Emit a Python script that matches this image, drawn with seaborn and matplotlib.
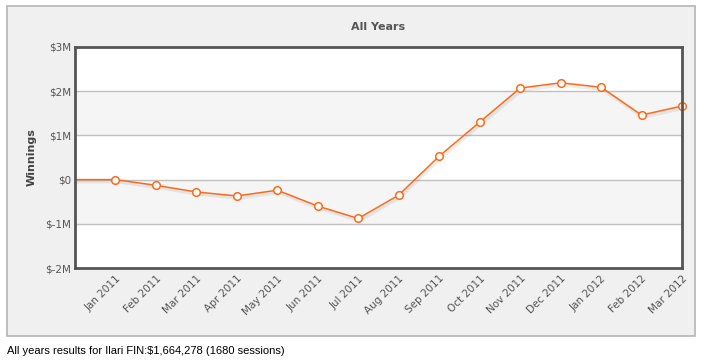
import matplotlib
matplotlib.use('Agg')
import matplotlib.pyplot as plt
import matplotlib.patheffects as pe
from matplotlib.patches import Rectangle
from matplotlib.ticker import FuncFormatter
import seaborn as sns
import pandas as pd

# data (millions of $)
months = ['Jan 2011', 'Feb 2011', 'Mar 2011', 'Apr 2011', 'May 2011', 'Jun 2011',
          'Jul 2011', 'Aug 2011', 'Sep 2011', 'Oct 2011', 'Nov 2011', 'Dec 2011',
          'Jan 2012', 'Feb 2012', 'Mar 2012']
winnings = [0.0, -0.13, -0.28, -0.37, -0.24, -0.60, -0.88, -0.35, 0.53, 1.30,
            2.07, 2.19, 2.09, 1.46, 1.664]
opening = 0.0  # starting balance before Jan 2011, line comes in from the axis edge
y_ticks = [-2, -1, 0, 1, 2, 3]

sns.set_style('white')
plt.rcParams['font.family'] = ['DejaVu Sans']

df = pd.DataFrame({'pos': range(len(months)), 'month': months, 'winnings': winnings})
line_df = pd.DataFrame({'pos': [-1] + list(df['pos']), 'winnings': [opening] + winnings})

orange = '#ff6a1a'
fig = plt.figure(figsize=(7.06, 3.63), dpi=100)
fig.patch.set_facecolor('white')
fig.patches.append(Rectangle((7 / 706, 1 - 336 / 363), 688 / 706, 330 / 363,
                             transform=fig.transFigure, facecolor='#f0f0f0',
                             edgecolor='#b4b4b4', lw=1.2, zorder=-1))

ax = fig.add_axes([75 / 706, 1 - 268 / 363, 607 / 706, 221 / 363])
ax.set_zorder(2)
ax.set_facecolor('white')

# alternating bands
for lo, hi in zip(y_ticks[:-1], y_ticks[1:]):
    if lo in (-1, 1):
        ax.axhspan(lo, hi, color='#f5f5f5', zorder=0, lw=0)
for t in y_ticks:
    ax.axhline(t, color='#c0c0c0', lw=1, zorder=1)

sns.lineplot(data=line_df, x='pos', y='winnings', ax=ax, color=orange, lw=1.1,
             zorder=3, path_effects=[pe.SimpleLineShadow(offset=(1, -1.5), shadow_color='black', alpha=0.07, linewidth=2.5),
                                     pe.Normal()])
sns.scatterplot(data=df, x='pos', y='winnings', ax=ax, s=30, facecolor='white',
                edgecolor=orange, linewidth=1.1, zorder=4, clip_on=False)

ax.set_xlim(-1, len(months) - 1)
ax.set_ylim(-2, 3)
ax.set_yticks(y_ticks)
ax.yaxis.set_major_formatter(FuncFormatter(lambda v, p: '$0' if v == 0 else f'${int(v)}M'))
ax.set_xticks(df['pos'])
ax.set_xticklabels(months, rotation=45, ha='right', rotation_mode='anchor')
ax.tick_params(axis='both', length=0, labelsize=7.5, labelcolor='#555555')
ax.tick_params(axis='x', pad=4)
ax.tick_params(axis='y', pad=3)
for s in ax.spines.values():
    s.set_color('#555555')
    s.set_linewidth(2)
    s.set_zorder(5)

ax.set_xlabel('')
ax.set_ylabel('Winnings', fontsize=8, fontweight='bold', color='#444444', labelpad=6)
ax.set_title('All Years', fontsize=8, fontweight='bold', color='#555555', pad=12)

fig.text(7 / 706, 1 - 351 / 363, 'All years results for Ilari FIN:$1,664,278 (1680 sessions)',
         fontsize=8, family='Liberation Sans', va='center', ha='left', color='black')

fig.savefig('out.png', dpi=100)
